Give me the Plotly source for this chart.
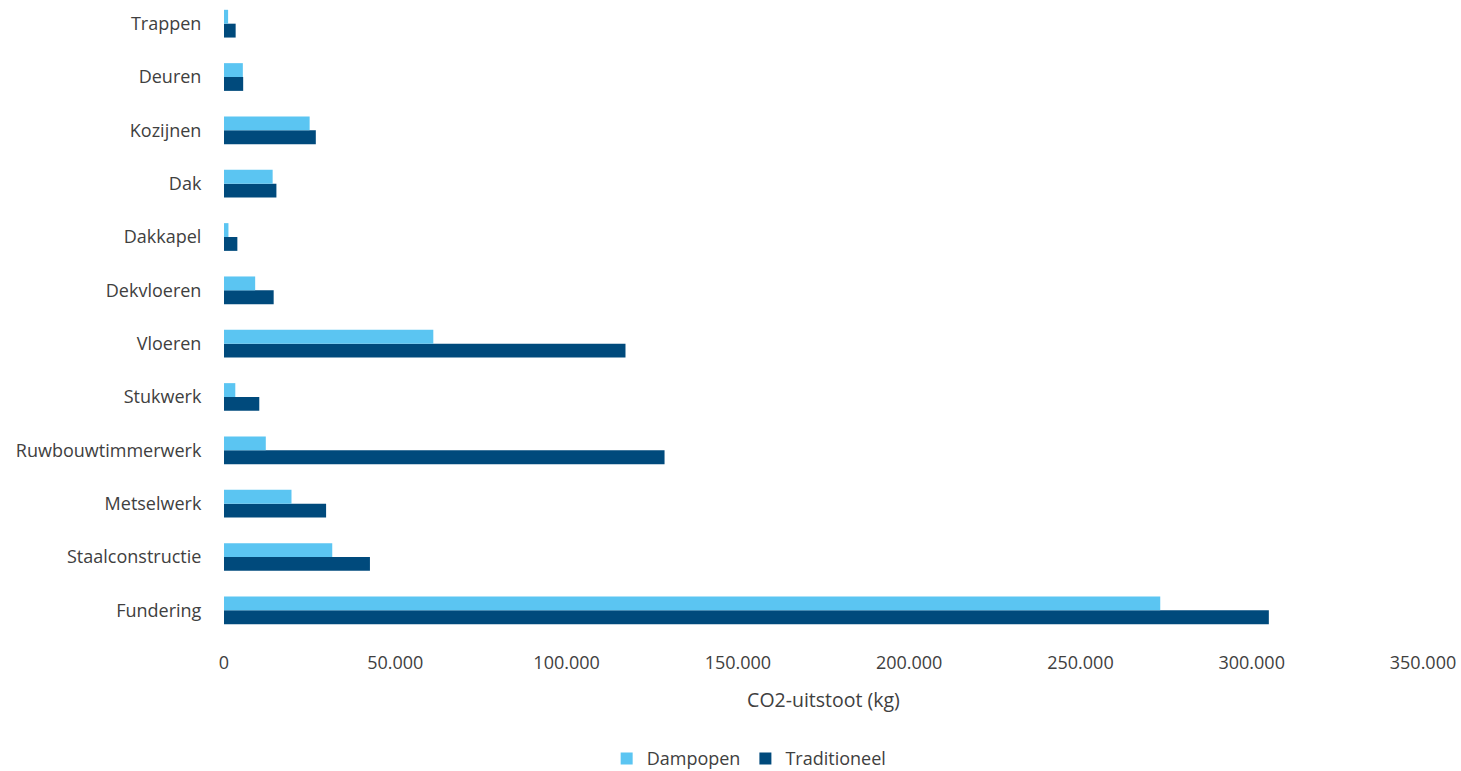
import plotly.graph_objects as go

categories = ["Fundering", "Staalconstructie", "Metselwerk", "Ruwbouwtimmerwerk", "Stukwerk",
              "Vloeren", "Dekvloeren", "Dakkapel", "Dak", "Kozijnen", "Deuren", "Trappen"]
dampopen = [273300, 31600, 19700, 12200, 3300, 61100, 9100, 1300, 14200, 25000, 5500, 1200]
traditioneel = [305000, 42600, 29800, 128600, 10300, 117200, 14500, 3900, 15300, 26800, 5600, 3400]
tick_vals = [0, 50000, 100000, 150000, 200000, 250000, 300000, 350000]
tick_text = ["0", "50.000", "100.000", "150.000", "200.000", "250.000", "300.000", "350.000"]

W, H = 1461, 771
ml, mr, mt, mb = 223.5, 38.4, 0, 134
font = "Open Sans"
txt = "#404040"

fig = go.Figure()
fig.add_trace(go.Bar(y=categories, x=traditioneel, name="Traditioneel", orientation="h",
                     marker=dict(color="#004A7C", line=dict(width=0))))
fig.add_trace(go.Bar(y=categories, x=dampopen, name="Dampopen", orientation="h",
                     marker=dict(color="#5BC5F2", line=dict(width=0))))

fig.update_layout(
    width=W, height=H,
    margin=dict(l=ml, r=mr, t=mt, b=mb, pad=0, autoexpand=False),
    barmode="group", bargap=0.48, bargroupgap=0,
    plot_bgcolor="white", paper_bgcolor="white",
    font=dict(family=font, size=18, color=txt),
    xaxis=dict(range=[0, 350000], tickvals=tick_vals, ticktext=tick_text,
               showgrid=False, zeroline=False, showline=False, automargin=False,
               ticks="outside", ticklen=9, tickcolor="rgba(0,0,0,0)",
               title=dict(text="CO2-uitstoot (kg)", font=dict(size=19.5, color=txt), standoff=20),
               tickfont=dict(size=18, color=txt)),
    yaxis=dict(range=[-0.5, 11.444], showgrid=False, zeroline=False, showline=False,
               automargin=False,
               ticks="outside", ticklen=18, tickcolor="rgba(0,0,0,0)",
               tickfont=dict(size=18, color=txt)),
    legend=dict(orientation="h", x=0.438, xanchor="center", y=-0.162, yanchor="top",
                traceorder="reversed", font=dict(size=18, color=txt),
                itemwidth=30, tracegroupgap=0),
    showlegend=True,
)

fig.write_html("out.html")
